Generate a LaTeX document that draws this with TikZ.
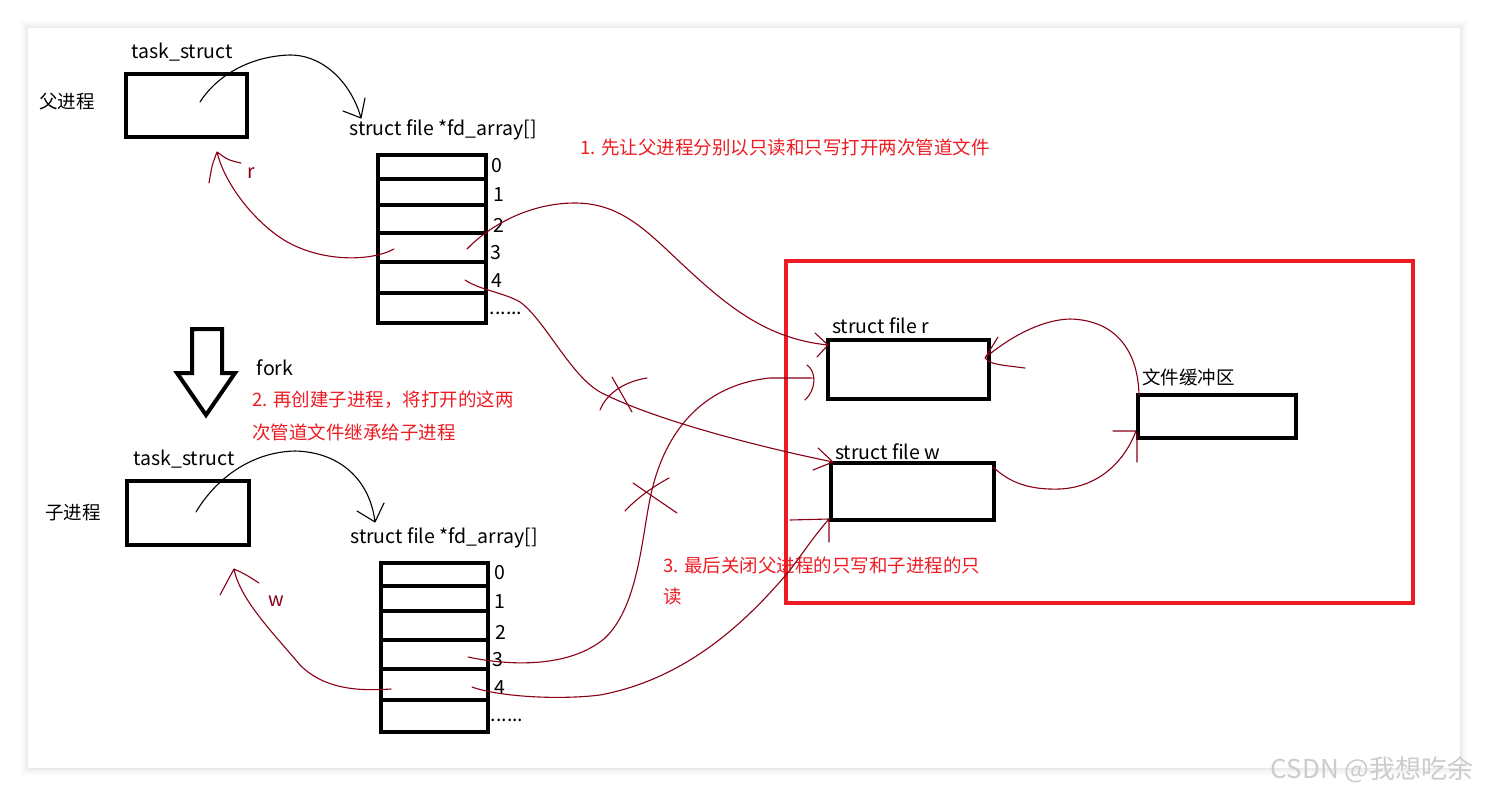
\documentclass[tikz,border=0pt]{standalone}
\usepackage{fontspec}
\setmainfont{Noto Sans CJK SC}
\definecolor{dred}{HTML}{880015}
\definecolor{bred}{HTML}{ED1C24}
\begin{document}
\begin{tikzpicture}[x=1pt,y=-1pt,
  txt/.style={font=\fontsize{18.5}{22}\selectfont, inner sep=0pt},
  ltxt/.style={font=\fontsize{19.5}{22}\selectfont, inner sep=0pt},
  rtxt/.style={txt, text=bred, anchor=west},
  box/.style={draw=black, line width=4pt, inner sep=0pt, outer sep=0pt},
  pcell/.style={box, minimum width=108pt},
  ccell/.style={box, minimum width=107pt},
  hand/.style={line width=1.1pt, line cap=round, line join=round},
  hred/.style={hand, draw=dred},
  hblk/.style={hand, draw=black}]
\useasboundingbox (0,0) rectangle (1488,796);
\fill[white] (0,0) rectangle (1488,796);
\foreach \i/\o in {7/0.015,5/0.02,3/0.025,1/0.03}
  \fill[black,opacity=\o] (28-\i,28-\i) rectangle (1460+\i,768+\i);
\fill[white] (28,28) rectangle (1460,768);

% ---------- parent ----------
\node[ltxt] (pts) at (182,52) {task\_struct};
\node[txt] (pname) at (67,102) {父进程};
\node[box, minimum width=121pt, minimum height=63pt] (ptask) at (186.5,105.5) {};
\node[ltxt] (pfdl) at (443,130) {struct file *fd\_array[]};
\node[pcell, minimum height=24pt] (pc0) at (432,167) {};
\node[pcell, minimum height=26pt] (pc1) at (432,192) {};
\node[pcell, minimum height=28pt] (pc2) at (432,219) {};
\node[pcell, minimum height=29pt] (pc3) at (432,247.5) {};
\node[pcell, minimum height=31pt] (pc4) at (432,277.5) {};
\node[pcell, minimum height=30pt] (pc5) at (432,308) {};
\node[ltxt] (pn0) at (497,166) {0};
\node[ltxt] (pn1) at (499,195) {1};
\node[ltxt] (pn2) at (499,225) {2};
\node[ltxt] (pn3) at (496,253) {3};
\node[ltxt] (pn4) at (497,281) {4};
\node[ltxt] (pn5) at (506,313) {......};
\node[ltxt, text=dred] (lr) at (251,173) {r};

\node[rtxt] (s1) at (580,147) {1. 先让父进程分别以只读和只写打开两次管道文件};

% fork arrow
\draw[line width=4pt, line join=miter] (192,329) -- (222,329) -- (222,373) -- (235,373) -- (206,415) -- (177,373) -- (192,373) -- cycle;
\node[ltxt] (fork) at (275,368) {fork};
\node[rtxt] (s2a) at (252,400) {2. 再创建子进程，将打开的这两};
\node[rtxt] (s2b) at (252,432) {次管道文件继承给子进程};

% ---------- child ----------
\node[ltxt] (cts) at (184,459) {task\_struct};
\node[txt] (cname) at (73,513) {子进程};
\node[box, minimum width=122pt, minimum height=64pt] (ctask) at (188,513) {};
\node[ltxt] (cfdl) at (444,538) {struct file *fd\_array[]};
\node[ccell, minimum height=23pt] (cc0) at (434.5,574.5) {};
\node[ccell, minimum height=25pt] (cc1) at (434.5,598.5) {};
\node[ccell, minimum height=29pt] (cc2) at (434.5,625.5) {};
\node[ccell, minimum height=29pt] (cc3) at (434.5,654.5) {};
\node[ccell, minimum height=31pt] (cc4) at (434.5,684.5) {};
\node[ccell, minimum height=32pt] (cc5) at (434.5,716) {};
\node[ltxt] (cn0) at (500,573) {0};
\node[ltxt] (cn1) at (500,602) {1};
\node[ltxt] (cn2) at (501,632) {2};
\node[ltxt] (cn3) at (498,660) {3};
\node[ltxt] (cn4) at (500,688) {4};
\node[ltxt] (cn5) at (507,720) {......};
\node[ltxt, text=dred] (lw) at (276,601) {w};

% ---------- red box ----------
\node[draw=bred, line width=4pt, inner sep=0pt, minimum width=627pt, minimum height=342pt] (rb) at (1099.5,432) {};
\node[ltxt, anchor=west] (frl) at (832,326) {struct file r};
\node[box, minimum width=161pt, minimum height=59pt] (fr) at (908.5,369.5) {};
\node[ltxt, anchor=west] (fwl) at (835,452) {struct file w};
\node[box, minimum width=163pt, minimum height=57pt] (fw) at (912.5,491.5) {};
\node[txt, anchor=west] (bufl) at (1142,377) {文件缓冲区};
\node[box, minimum width=158pt, minimum height=43pt] (buf) at (1217,416.5) {};
\node[rtxt] (s3a) at (663,565) {3. 最后关闭父进程的只写和子进程的只};
\node[rtxt] (s3b) at (663,597) {读};

% ---------- coordinates ----------
\coordinate (pt1) at (200,102);
\coordinate (pfa) at (361,118);
\coordinate (pr1) at (394,249);
\coordinate (prt) at (217,152);
\coordinate (p3) at (467,249);
\coordinate (frt) at (828,345);
\coordinate (p4) at (465,280);
\coordinate (fwt) at (833,462);
\coordinate (ct1) at (196,512);
\coordinate (cfa) at (375,522);
\coordinate (cw1) at (391,689);
\coordinate (cwt) at (234,569);
\coordinate (c3) at (468,657);
\coordinate (frl2) at (812,378);
\coordinate (c4) at (472,687);
\coordinate (fwb) at (829,519);
\coordinate (b1) at (1139,395);
\coordinate (frr) at (985,358);
\coordinate (fw1) at (993,467);
\coordinate (bl) at (1136,431);

% ---------- connectors ----------
\draw[hblk] (pt1) .. controls (218,74) and (252,56) .. (290,55)
  .. controls (325,55) and (352,85) .. (pfa)
  (pfa) -- ++(-18,-7) (pfa) -- ++(4,-20);
\draw[hred] (pr1) .. controls (370,262) and (320,262) .. (284,240)
  .. controls (255,222) and (225,185) .. (prt)
  (prt) .. controls (212,165) .. (209,183) (prt) .. controls (228,160) .. (241,163);
\draw[hred] (p3) .. controls (490,225) and (530,203) .. (575,203)
  .. controls (615,203) and (640,225) .. (665,248)
  .. controls (720,300) and (760,338) .. (frt)
  (frt) -- (815,333) (frt) -- (817,357);
\draw[hred] (p4) .. controls (480,290) and (505,293) .. (520,302)
  .. controls (545,320) and (570,375) .. (600,392)
  .. controls (650,418) and (750,445) .. (fwt)
  (fwt) -- (818,448) (fwt) -- (813,470);
% cross 1
\draw[hred] (612,377) -- (632,412) (647,378) .. controls (622,382) and (606,395) .. (600,410);

\draw[hblk] (ct1) .. controls (215,480) and (250,452) .. (295,451)
  .. controls (340,452) and (370,480) .. (cfa)
  (cfa) -- (357,511) (cfa) -- (384,503);
\draw[hred] (cw1) .. controls (360,691) and (325,690) .. (300,665)
  .. controls (275,635) and (240,600) .. (cwt)
  (cwt) .. controls (228,580) .. (220,595) (cwt) .. controls (245,574) .. (259,583);
\draw[hred] (c3) .. controls (510,666) and (570,668) .. (605,638)
  .. controls (640,605) and (642,530) .. (652,490)
  .. controls (665,435) and (700,385) .. (770,378) -- (frl2)
  (807,365) .. controls (817,372) and (816,390) .. (805,400);
% cross 2
\draw[hred] (633,483) -- (677,513) (669,478) .. controls (652,487) and (635,500) .. (625,511);
\draw[hred] (c4) .. controls (500,697) and (560,700) .. (600,695)
  .. controls (680,680) and (740,630) .. (790,570)
  .. controls (805,550) and (815,535) .. (fwb)
  (790,520) -- (fwb) -- (829,542);

\draw[hred] (b1) .. controls (1138,350) and (1115,320) .. (1070,319)
  .. controls (1035,320) and (1000,345) .. (frr)
  (frr) -- (998,337) (frr) .. controls (992,364) .. (1025,368);
\draw[hred] (fw1) .. controls (1010,483) and (1030,490) .. (1060,489)
  .. controls (1100,487) and (1125,460) .. (bl)
  (1113,431) -- (bl) (1137,433) -- (1137,462);

% watermark
\node[font=\fontsize{26}{28}\selectfont, text=gray!40, inner sep=0pt] (wm) at (1372,770) {CSDN @我想吃余};
\end{tikzpicture}
\end{document}
